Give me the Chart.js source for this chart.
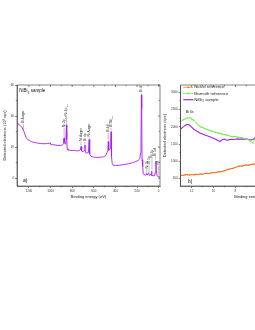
<!DOCTYPE html>
<html>
<head>
<meta charset="utf-8">
<script src="https://cdn.jsdelivr.net/npm/chart.js@4.4.0/dist/chart.umd.min.js"></script>
<style>
  html, body { margin: 0; padding: 0; background: #fff; }
  #wrap { position: relative; width: 255px; height: 330px; overflow: hidden; }
  #survey { position: absolute; left: 0; top: 0; }
  #valence { position: absolute; left: 160px; top: 0; }
</style>
</head>
<body>
<div id="wrap">
  <canvas id="survey" width="170" height="330"></canvas>
  <canvas id="valence" width="180" height="330"></canvas>
</div>
<script>
// Survey spectrum (panel a), binding energy in eV, counts in 10^3 cps
const surveyEnergy = [1310, 1290, 1275, 1265, 1255, 1245, 1235, 1225, 1210, 1195, 1175, 1150, 1120, 1090,
  1060, 1030, 1010, 1003, 995, 980, 950, 920, 900, 890, 880, 875, 872, 865, 858, 853, 850, 846, 840,
  820, 800, 780, 760, 740, 725, 718, 712, 700, 690, 682, 678, 665, 650, 643, 638, 625, 600, 570, 540,
  510, 490, 478, 470, 466, 462, 450, 444, 440, 436, 430, 420, 400, 360, 320, 280, 240, 210, 190, 175,
  168, 164, 160, 157, 154, 150, 146, 143, 135, 120, 111, 105, 93, 85, 70, 67, 62, 40, 30, 26, 22, 15, 5, -12];
const surveyCounts = [35.5, 34.5, 33.5, 33, 31.5, 30, 28, 26, 25, 24.2, 23.5, 23, 22.6, 22.3,
  22.2, 22.3, 22.5, 22.8, 21.4, 21.6, 21.3, 21.0, 21.2, 21.5, 22.5, 26, 23, 22, 24, 34.4, 25, 19, 18.2,
  18, 17.8, 17.9, 17.6, 17.7, 18.2, 20.4, 17.5, 17, 17.8, 21.5, 16.5, 16.2, 16.5, 25, 15.5, 14, 13.6, 13.4, 13.5,
  13.8, 14.5, 16.5, 18, 23.6, 18, 19, 23, 30, 14, 9.5, 8.3, 8.2, 8.4, 8.8, 9.3, 10, 10.8, 11.5, 12.5,
  16, 20, 53.7, 45, 12, 8, 7.5, 3, 2.2, 2, 3, 2, 3.5, 1.8, 2.5, 4.5, 1.8, 1.5, 4, 11, 5, 1.5, 1, 0.8];
const surveyXTicks = [1200, 1000, 800, 600, 400, 200, 0];
const surveyYTicks = [0, 20, 40, 60];

// Peak labels of panel a
const peakNames = ["Bi Auger", "Ni 2p", "Ni 2p", "Ni Auger", "Bi 4p", "Ni Auger", "Bi 4d", "Bi 4d", "Bi 4f",
  "Ni 3s", "Bi 5p", "Ni 3p", "Bi 5d", "VB"];
const peakSubs = ["", "1/2", "3/2", "", "", "", "3/2", "5/2", "", "", "", "", "", ""];
const peakEnergy = [1250, 874, 852, 718, 682, 643, 466, 440, 160, 111, 89, 62, 31, 3];
const peakLineFrom = [31, 26.5, 35, 21, 22, 25.5, 24.5, 31, 54.5, 3, 4, 5, 12, 2];
const peakLineTo = [35, 32.5, 40, 23.6, 23.6, 26.5, 29.2, 32.5, 55, 6, 9, 13, 14, 8];

// Valence band region (panel b), counts in cps
const valenceEnergy = [13.0, 12.8, 12.6, 12.4, 12.2, 12.0, 11.8, 11.6, 11.4, 11.2, 11.0, 10.8, 10.6, 10.4,
  10.2, 10.0, 9.8, 9.6, 9.4, 9.2, 9.0, 8.8, 8.6, 8.4, 8.2, 8.0, 7.8, 7.6, 7.4, 7.2, 7.0, 6.8, 6.6, 6.4, 6.2, 6.0];
const nickelRef = [580, 590, 605, 610, 600, 612, 605, 620, 615, 630, 620, 645, 650, 640,
  665, 668, 670, 690, 695, 705, 725, 745, 765, 785, 795, 820, 845, 860, 855, 880, 890, 885, 905, 915, 920, 930];
const bismuthRef = [2150, 2200, 2230, 2255, 2265, 2230, 2190, 2120, 2050, 2000, 1980, 1950, 1925, 1900,
  1880, 1860, 1840, 1820, 1810, 1790, 1775, 1760, 1745, 1720, 1710, 1720, 1700, 1690, 1680, 1665, 1640, 1620, 1570, 1530, 1650, 1670];
const nibiSample = [1936, 1990, 2040, 2073, 2050, 1990, 1930, 1890, 1850, 1810, 1790, 1760, 1740, 1720,
  1690, 1665, 1640, 1600, 1570, 1630, 1645, 1610, 1620, 1640, 1630, 1640, 1650, 1635, 1650, 1640, 1650, 1630, 1620, 1630, 1680, 1700];
const valenceNames = ["Nickel reference", "Bismuth reference", "NiBi₃ sample"];
const valenceColors = ["#ff6a1a", "#66f03a", "#a21ff0"];
const valenceXTicks = [12, 10, 8, 6, 4, 2, 0];
const valenceYTicks = [500, 1000, 1500, 2000, 2500, 3000];

const FONT = "'Liberation Sans', Arial, sans-serif";
const AXIS = "#333";

function drawLabel(ctx, base, sub, size) {
  ctx.font = size + "px " + FONT;
  ctx.fillText(base, 0, 0);
  if (sub) {
    const w = ctx.measureText(base).width;
    ctx.font = (size * 0.65) + "px " + FONT;
    ctx.fillText(sub, w + 0.3, size * 0.3);
  }
}

// closes the box and adds inward ticks on top / right, minor ticks in between
const framePlugin = {
  id: "frame",
  afterDraw(chart) {
    const { ctx, chartArea: a, scales } = chart;
    ctx.save();
    ctx.strokeStyle = AXIS;
    ctx.lineWidth = 0.6;
    ctx.strokeRect(a.left, a.top, a.right - a.left, a.bottom - a.top);
    ctx.beginPath();
    const xt = scales.x.ticks.map(t => scales.x.getPixelForValue(t.value));
    xt.forEach((px, i) => {
      ctx.moveTo(px, a.top); ctx.lineTo(px, a.top + 2);
      if (i > 0) {
        const m = (px + xt[i - 1]) / 2;
        ctx.moveTo(m, a.top); ctx.lineTo(m, a.top + 1.2);
        ctx.moveTo(m, a.bottom); ctx.lineTo(m, a.bottom + 1.2);
      }
    });
    const yt = scales.y.ticks.map(t => scales.y.getPixelForValue(t.value));
    yt.forEach((py, i) => {
      ctx.moveTo(a.right, py); ctx.lineTo(a.right - 2, py);
      if (i > 0) {
        const m = (py + yt[i - 1]) / 2;
        ctx.moveTo(a.right, m); ctx.lineTo(a.right - 1.2, m);
        ctx.moveTo(a.left, m); ctx.lineTo(a.left - 1.2, m);
      }
    });
    ctx.stroke();
    ctx.restore();
  }
};

const peakPlugin = {
  id: "peaks",
  afterDatasetsDraw(chart) {
    const { ctx, chartArea: a, scales: { x, y } } = chart;
    ctx.save();
    ctx.strokeStyle = "#666";
    ctx.fillStyle = "#333";
    ctx.lineWidth = 0.4;
    ctx.textBaseline = "middle";
    ctx.textAlign = "left";
    peakNames.forEach((name, i) => {
      const px = x.getPixelForValue(peakEnergy[i]);
      const y0 = y.getPixelForValue(peakLineFrom[i]);
      const y1 = y.getPixelForValue(peakLineTo[i]);
      if (y0 - y1 > 0.5) {
        ctx.beginPath(); ctx.moveTo(px, y0); ctx.lineTo(px, y1); ctx.stroke();
      }
      ctx.save();
      ctx.translate(px, y1 - 0.5);
      ctx.rotate(-Math.PI / 2);
      drawLabel(ctx, name, peakSubs[i], 3.4);
      ctx.restore();
    });
    ctx.fillStyle = "#111";
    ctx.textBaseline = "alphabetic";
    ctx.save();
    ctx.translate(a.left + 2.3, a.top + 7.3);
    drawLabel(ctx, "NiBi", "3", 4.5);
    ctx.font = "4.5px " + FONT;
    const w = ctx.measureText("NiBi").width + 2.3;
    ctx.fillText("sample", w + 1, 0);
    ctx.restore();
    ctx.font = "5px " + FONT;
    ctx.fillText("a)", a.left + 6, a.bottom - 4);
    ctx.restore();
  }
};

const valencePlugin = {
  id: "valenceText",
  afterDatasetsDraw(chart) {
    const { ctx, chartArea: a, scales: { x, y } } = chart;
    ctx.save();
    ctx.textBaseline = "middle";
    valenceNames.forEach((name, i) => {
      const ly = a.top + 2.3 + i * 6.2;
      ctx.strokeStyle = valenceColors[i];
      ctx.fillStyle = valenceColors[i];
      ctx.lineWidth = i === 2 ? 1.2 : 0.7;
      ctx.beginPath(); ctx.moveTo(a.left + 2.6, ly); ctx.lineTo(a.left + 12.6, ly); ctx.stroke();
      if (i < 2) { ctx.beginPath(); ctx.arc(a.left + 7.6, ly, 0.9, 0, Math.PI * 2); ctx.fill(); }
      ctx.fillStyle = "#222";
      if (i === 2) {
        ctx.save(); ctx.translate(a.left + 13.6, ly);
        drawLabel(ctx, "NiBi", "3", 4.2);
        ctx.font = "4.2px " + FONT;
        ctx.fillText("sample", ctx.measureText("NiBi").width + 3.2, 0);
        ctx.restore();
      } else {
        ctx.font = "4.2px " + FONT;
        ctx.fillText(name, a.left + 13.6, ly);
      }
    });
    ctx.fillStyle = "#222";
    ctx.font = "3.6px " + FONT;
    ctx.fillText("Bi 6s", x.getPixelForValue(12.55), y.getPixelForValue(2420));
    ctx.textBaseline = "alphabetic";
    ctx.font = "5px " + FONT;
    ctx.fillText("b)", a.left + 7.3, a.bottom - 3);
    ctx.restore();
  }
};

function setTicks(values) {
  return scale => { scale.ticks = values.map(v => ({ value: v })); };
}

function axisX(min, max, values) {
  return {
    type: "linear", reverse: true, min: min, max: max,
    afterFit: s => { s.height = 16; },
    afterBuildTicks: setTicks(values),
    ticks: { autoSkip: false, maxRotation: 0, padding: 1, callback: v => String(v),
      color: AXIS, font: { size: 3, family: FONT } },
    grid: { drawOnChartArea: false, tickLength: 2, color: AXIS, lineWidth: 0.6 },
    border: { color: AXIS, width: 0.6 },
    title: { display: true, text: "Binding energy (eV)", color: "#222",
      font: { size: 4, family: FONT }, padding: { top: 0, bottom: 3.1 } }
  };
}

function axisY(min, max, values, width, text) {
  return {
    min: min, max: max,
    afterFit: s => { s.width = width; },
    afterBuildTicks: setTicks(values),
    ticks: { autoSkip: false, padding: 1, callback: v => String(v), color: AXIS, font: { size: 3, family: FONT } },
    grid: { drawOnChartArea: false, tickLength: 2, color: AXIS, lineWidth: 0.6 },
    border: { color: AXIS, width: 0.6 },
    title: { display: true, text: text, color: "#222",
      font: { size: 4, family: FONT }, padding: { top: 2.6, bottom: 0 } }
  };
}

new Chart(document.getElementById("survey"), {
  type: "line",
  data: {
    datasets: [{
      data: surveyEnergy.map((e, i) => ({ x: e, y: surveyCounts[i] })),
      borderColor: "#a81ff0",
      borderWidth: 0.9,
      pointRadius: 0,
      tension: 0
    }]
  },
  options: {
    responsive: false,
    animation: false,
    layout: { padding: { left: 0, top: 85, right: 10, bottom: 128 } },
    plugins: { legend: { display: false }, tooltip: { enabled: false } },
    scales: {
      x: axisX(-12, 1310, surveyXTicks),
      y: axisY(-5, 60, surveyYTicks, 17, "Detected electrons (10³ cps)")
    }
  },
  plugins: [framePlugin, peakPlugin]
});

function series(values, color, width, marked) {
  return {
    data: valenceEnergy.map((e, i) => ({ x: e, y: values[i] })),
    borderColor: color,
    backgroundColor: color,
    borderWidth: width,
    pointRadius: marked ? 0.7 : 0,
    pointBorderWidth: 0,
    tension: 0
  };
}

new Chart(document.getElementById("valence"), {
  type: "line",
  data: {
    datasets: [
      series(nickelRef, valenceColors[0], 1, true),
      series(bismuthRef, valenceColors[1], 0.9, true),
      series(nibiSample, valenceColors[2], 1.1, false)
    ]
  },
  options: {
    responsive: false,
    animation: false,
    layout: { padding: { left: 0, top: 85, right: 17, bottom: 128 } },
    plugins: { legend: { display: false }, tooltip: { enabled: false } },
    scales: {
      x: axisX(0, 13, valenceXTicks),
      y: axisY(280, 3215, valenceYTicks, 20.7, "Detected electrons (cps)")
    }
  },
  plugins: [framePlugin, valencePlugin]
});
</script>
</body>
</html>
